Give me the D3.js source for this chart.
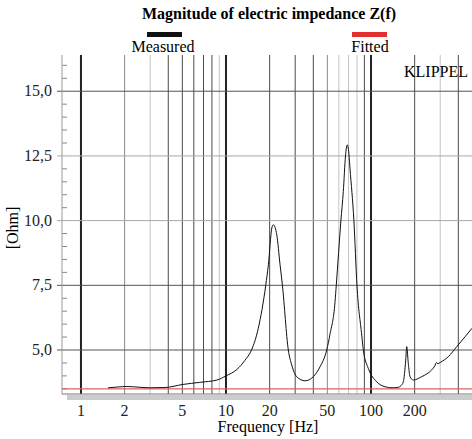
<!DOCTYPE html>
<html>
<head>
  <meta charset="UTF-8">
  <title>Magnitude of electric impedance Z(f)</title>
  <script src="https://d3js.org/d3.v7.min.js"></script>
  <style>
    body { margin: 0; background: #fff; }
    svg { display: block; font-family: "Liberation Serif", "Times New Roman", serif; }
    .tick-label { font-size: 16px; fill: #222; }
  </style>
</head>
<body>
  <svg width="472" height="439"></svg>

  <script>
    // Measured impedance curve
    const measFreq = [1.54, 1.8, 2.07, 2.55, 3.0, 3.8, 5.05, 6.6, 8.66, 10.0, 11.9, 13.5, 15.0, 16.7, 18.8,
      19.6, 20.7, 21.2, 22.4, 23.6, 24.5, 26.9, 28.4, 30.7, 35.1, 40.0, 44.5, 49.5, 52.1, 56.5, 57.6,
      62.0, 64.4, 66.7, 68.6, 70.6, 71.6, 76.2, 80.0, 86.3, 88.5, 95.8, 109.5, 125, 140, 154, 161, 167,
      173.5, 176.3, 180.8, 185.8, 195.8, 223.7, 262, 275, 283, 288, 300, 341, 390, 445, 497];
    const measZ = [3.54, 3.57, 3.59, 3.56, 3.54, 3.55, 3.67, 3.75, 3.84, 4.0, 4.25, 4.6, 5.0, 5.84, 7.5,
      8.29, 9.71, 9.84, 9.45, 8.29, 7.5, 5.0, 4.42, 3.97, 3.81, 3.97, 4.35, 5.0, 5.6, 6.87, 7.5,
      10.0, 11.12, 12.5, 12.93, 12.5, 12.03, 10.0, 7.5, 5.58, 5.0, 4.29, 3.77, 3.58, 3.54, 3.56, 3.62, 3.77,
      4.61, 5.13, 4.48, 3.97, 3.84, 3.97, 4.23, 4.38, 4.52, 4.47, 4.52, 4.74, 5.13, 5.51, 5.84];

    // Fitted curve (flat over the shown range)
    const fitFreq = [0.74, 497];
    const fitZ = [3.5, 3.5];

    const gridFreq = [1, 2, 3, 4, 5, 6, 7, 8, 9, 10, 20, 30, 40, 50, 60, 70, 80, 90, 100, 200, 300, 400];
    const xTickValues = [1, 2, 5, 10, 20, 50, 100, 200];
    const yTickValues = [5, 7.5, 10, 12.5, 15];
    const yMinorValues = d3.range(3.5, 16.5, 0.5);

    const svg = d3.select("svg");
    const pLeft = 62, pRight = 472, pTop = 55, pBottom = 394;

    const x = d3.scaleLog().domain([0.74, 497]).range([pLeft, pRight]);
    const y = d3.scaleLinear().domain([3.3, 16.4]).range([pBottom, pTop]);

    // grid shading (the original has lines of different strength)
    const lightLines = [3, 9, 60, 70, 80, 300];
    const midLines = [2, 50];
    function vTone(f) {
      if (lightLines.includes(f)) return "#c4c4c4";
      if (midLines.includes(f)) return "#8a8a8a";
      return "#4a4a4a";
    }
    const isDecade = f => [1, 10, 100].includes(f);

    // shadow under the plot
    svg.append("rect")
      .attr("x", 67).attr("y", pBottom + 1)
      .attr("width", pRight - 67).attr("height", 5)
      .attr("fill", "#cccccc");

    // vertical grid
    svg.append("g").selectAll("line")
      .data(gridFreq)
      .join("line")
      .attr("x1", d => x(d)).attr("x2", d => x(d))
      .attr("y1", pTop).attr("y2", pBottom)
      .attr("stroke", d => isDecade(d) ? "#222" : vTone(d))
      .attr("stroke-width", d => isDecade(d) ? 2 : 1);

    // horizontal grid
    svg.append("g").selectAll("line")
      .data(yTickValues)
      .join("line")
      .attr("x1", pLeft - 5).attr("x2", pRight)
      .attr("y1", d => y(d)).attr("y2", d => y(d))
      .attr("stroke", d => (d === 10 || d === 12.5) ? "#a8a8a8" : "#555")
      .attr("stroke-width", 1);

    // minor y ticks
    svg.append("g").selectAll("line")
      .data(yMinorValues.filter(v => !yTickValues.includes(v)))
      .join("line")
      .attr("x1", pLeft).attr("x2", pLeft + 5)
      .attr("y1", d => y(d)).attr("y2", d => y(d))
      .attr("stroke", "#888");

    // axes lines
    svg.append("line")
      .attr("x1", pLeft).attr("x2", pLeft).attr("y1", pTop).attr("y2", pBottom)
      .attr("stroke", "#999");
    svg.append("line")
      .attr("x1", pLeft).attr("x2", pRight).attr("y1", pBottom).attr("y2", pBottom)
      .attr("stroke", "#777");

    // y labels
    svg.append("g").selectAll("text")
      .data(yTickValues)
      .join("text")
      .attr("class", "tick-label")
      .attr("x", 52).attr("y", d => y(d) + 5)
      .attr("text-anchor", "end")
      .text(d => d3.format(".1f")(d).replace(".", ","));

    // x labels
    svg.append("g").selectAll("text")
      .data(xTickValues)
      .join("text")
      .attr("class", "tick-label")
      .attr("x", d => x(d)).attr("y", 416)
      .attr("text-anchor", "middle")
      .text(d => d);

    const line = d3.line()
      .x(d => x(d[0]))
      .y(d => y(d[1]));

    // fitted
    svg.append("path")
      .datum(d3.zip(fitFreq, fitZ))
      .attr("d", line)
      .attr("fill", "none")
      .attr("stroke", "#e06060")
      .attr("stroke-width", 1.2);

    // measured
    svg.append("path")
      .datum(d3.zip(measFreq, measZ))
      .attr("d", line.curve(d3.curveMonotoneX))
      .attr("fill", "none")
      .attr("stroke", "#111")
      .attr("stroke-width", 1);

    // title & legend
    svg.append("text")
      .attr("x", 269).attr("y", 19)
      .attr("text-anchor", "middle")
      .attr("font-weight", "bold")
      .attr("font-size", 16)
      .text("Magnitude of electric impedance Z(f)");

    svg.append("rect").attr("x", 147).attr("y", 32).attr("width", 35).attr("height", 5).attr("fill", "#111");
    svg.append("text").attr("x", 163).attr("y", 52).attr("text-anchor", "middle")
      .attr("font-size", 16).text("Measured");
    svg.append("rect").attr("x", 352).attr("y", 32).attr("width", 35).attr("height", 5).attr("fill", "#e03030");
    svg.append("text").attr("x", 370).attr("y", 52).attr("text-anchor", "middle")
      .attr("font-size", 16).text("Fitted");

    svg.append("text")
      .attr("x", 468).attr("y", 77)
      .attr("text-anchor", "end")
      .attr("font-size", 16)
      .text("KLIPPEL");

    // axis titles
    svg.append("text")
      .attr("transform", "translate(18,228) rotate(-90)")
      .attr("text-anchor", "middle")
      .attr("font-size", 16)
      .text("[Ohm]");
    svg.append("text")
      .attr("x", 268).attr("y", 432)
      .attr("text-anchor", "middle")
      .attr("font-size", 16)
      .text("Frequency [Hz]");
  </script>
</body>
</html>
